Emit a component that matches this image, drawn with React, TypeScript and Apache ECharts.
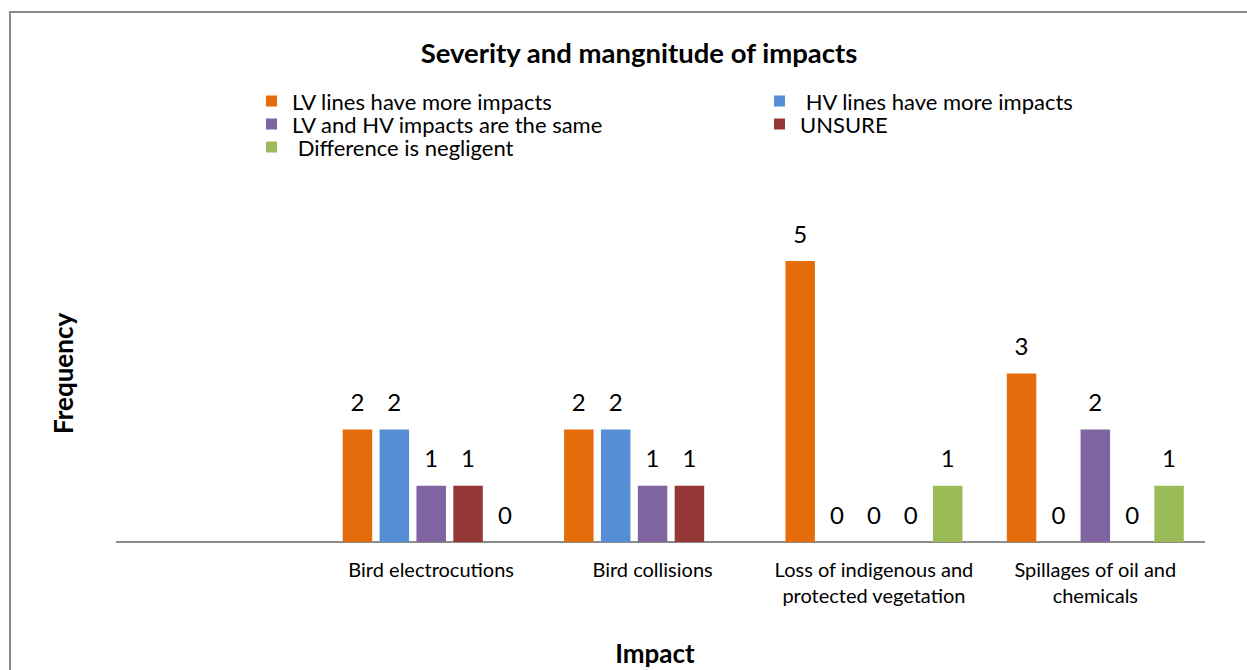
import React, { useEffect, useRef } from "react";
import * as echarts from "echarts";

const categories = [
  "Bird electrocutions",
  "Bird collisions",
  "Loss of indigenous and\nprotected vegetation",
  "Spillages of oil and\nchemicals",
];
const seriesNames = [
  "LV lines have more impacts",
  " HV lines have more impacts",
  "LV and HV impacts are the same",
  "UNSURE",
  " Difference is negligent",
];
const lvMore = [2, 2, 5, 3];
const hvMore = [2, 2, 0, 0];
const same = [1, 1, 0, 2];
const unsure = [1, 1, 0, 0];
const negligent: (number | null)[] = [0, null, 1, 1];
const colors = ["#E46C0A", "#558ED5", "#8064A2", "#953735", "#9BBB59"];

const FONT = "Lato, 'Open Sans', sans-serif";

export default function App() {
  const ref = useRef<HTMLDivElement>(null);
  useEffect(() => {
    if (!ref.current) return;
    const chart = echarts.init(ref.current, undefined, { renderer: "svg" });
    const values = [lvMore, hvMore, same, unsure, negligent];
    const legendText = {
      fontFamily: FONT,
      fontSize: 22,
      color: "#000",
      lineHeight: 22,
      padding: [0, 0, 0, 10],
    };
    chart.setOption({
      animation: false,
      backgroundColor: "#fff",
      title: {
        text: "Severity and mangnitude of impacts",
        left: 634,
        top: 33,
        textAlign: "center",
        textStyle: { fontFamily: FONT, fontSize: 27.5, fontWeight: "bold", color: "#000" },
      },
      legend: [
        {
          orient: "vertical",
          left: 261,
          top: 85,
          itemWidth: 11,
          itemHeight: 11,
          itemGap: 1,
          icon: "rect",
          data: [seriesNames[0], seriesNames[2], seriesNames[4]],
          textStyle: legendText,
          selectedMode: false,
        },
        {
          orient: "vertical",
          left: 769,
          top: 85,
          itemWidth: 11,
          itemHeight: 11,
          itemGap: 1,
          icon: "rect",
          data: [seriesNames[1], seriesNames[3]],
          textStyle: legendText,
          selectedMode: false,
        },
      ],
      grid: { left: 320.5, right: 41, top: 204.8, bottom: 128, containLabel: false },
      xAxis: {
        type: "category",
        data: categories,
        axisLine: { show: false },
        axisTick: { show: false },
        axisLabel: {
          fontFamily: FONT,
          fontSize: 20,
          color: "#000",
          lineHeight: 26,
          margin: 14,
          interval: 0,
        },
      },
      yAxis: {
        type: "value",
        min: 0,
        max: 6,
        name: "Frequency",
        nameLocation: "middle",
        nameGap: 245,
        nameRotate: 90,
        nameTextStyle: { fontFamily: FONT, fontSize: 26, fontWeight: "bold", color: "#000" },
        axisLine: { show: false },
        axisTick: { show: false },
        axisLabel: { show: false },
        splitLine: { show: false },
      },
      graphic: [
        {
          type: "rect",
          shape: { x: 10, y: 12, width: 1300, height: 700 },
          style: { fill: "none", stroke: "#8c8c8c", lineWidth: 2 },
          silent: true,
        },
        {
          type: "line",
          shape: { x1: 116, y1: 542, x2: 1205, y2: 542 },
          style: { stroke: "#8c8c8c", lineWidth: 2 },
          silent: true,
        },
        {
          type: "text",
          x: 655,
          y: 653,
          style: {
            text: "Impact",
            font: "bold 26px " + FONT,
            fill: "#000",
            textAlign: "center",
            textVerticalAlign: "middle",
          },
          silent: true,
        },
      ],
      series: seriesNames.map((name, i) => ({
        name,
        type: "bar",
        data: values[i],
        barWidth: 29.5,
        barGap: "25%",
        itemStyle: { color: colors[i] },
        label: {
          show: true,
          position: "top",
          distance: 16,
          fontFamily: FONT,
          fontSize: 24,
          color: "#000",
        },
      })),
    });
    return () => chart.dispose();
  }, []);
  return (
    <div
      ref={ref}
      style={{ position: "absolute", left: 0, top: 0, width: 1247, height: 670 }}
    />
  );
}
